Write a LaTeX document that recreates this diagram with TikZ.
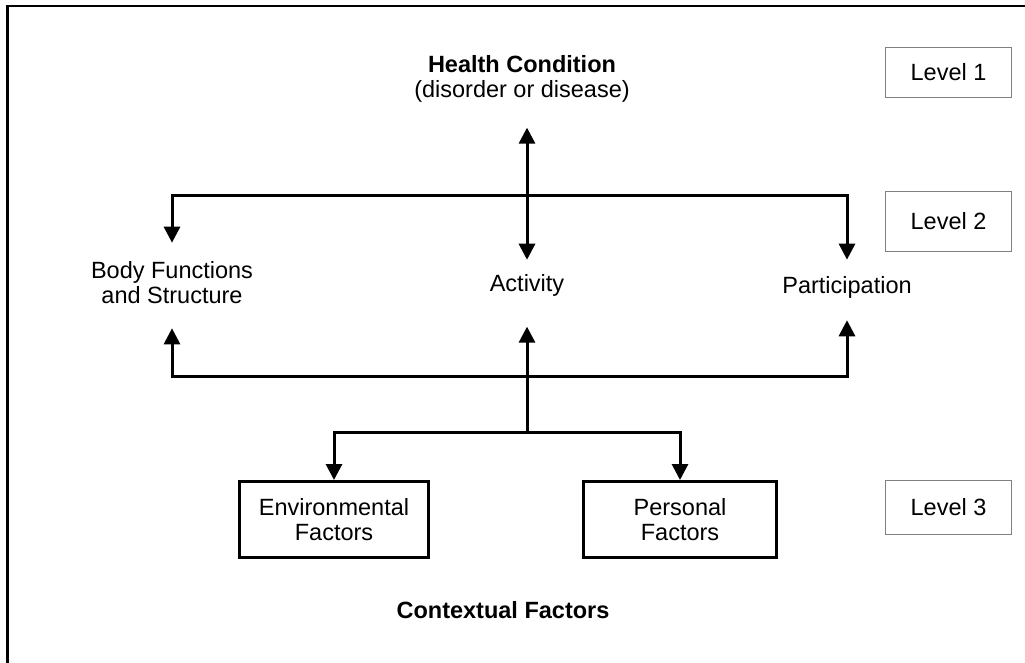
\documentclass[tikz,border=0pt]{standalone}
\usepackage{fontspec}
\setmainfont{Liberation Sans}
\usetikzlibrary{arrows.meta}
\begin{document}
\begin{tikzpicture}[x=1pt,y=-1pt,
    >={Triangle[width=16pt,length=16pt]},
    every node/.style={font=\fontsize{23.5}{25}\selectfont, inner sep=0pt, align=center},
    conn/.style={line width=3pt},
    factor/.style={draw, line width=3pt, minimum height=76pt},
    level/.style={draw=gray, line width=1pt, minimum width=126pt}]
        \useasboundingbox (0,0) rectangle (1025,663);
        \draw[line width=2.5pt] (7.5,663) |- (1025,6);
        \node (A0_1) at (522,79) {\textbf{Health Condition}\\(disorder or disease)};
        \node (A1_0) at (172,282.5) {Body Functions\\and Structure};
        \node (A1_1) at (527,285.5) {Activity};
        \node (A1_2) at (847,287.5) {Participation};
        \node [factor, minimum width=189pt] (A2_0) at (334,519.5) {Environmental\\Factors};
        \node [factor, minimum width=193pt] (A2_1) at (680,519.5) {Personal\\Factors};
        \node (A3_0) at (503,610) {\textbf{Contextual Factors}};
        \node [level, minimum height=50pt] (L1) at (948.5,72.5) {Level 1};
        \node [level, minimum height=60pt] (L2) at (948.5,221.5) {Level 2};
        \node [level, minimum height=54pt] (L3) at (948.5,507.5) {Level 3};
        \coordinate (J1) at (527,196);
        \coordinate (J2) at (527,376);
        \coordinate (J3) at (527,432);
        \draw [conn,<->,shorten <=14.6pt,shorten >=25pt] (A1_1) -- (A0_1.south -| A1_1);
        \draw [conn,->,shorten >=18.5pt] (J1) -| (A1_0);
        \draw [conn,->,shorten >=16.7pt] (J1) -| (A1_2);
        \draw [conn,->,shorten >=24.5pt] (J2) -| (A1_0);
        \draw [conn,->,shorten >=21.6pt] (J2) -| (A1_2);
        \draw [conn,->,shorten >=30pt] (J3) -- (A1_1);
        \draw [conn,->] (J3) -| (A2_0);
        \draw [conn,->] (J3) -| (A2_1);
      \end{tikzpicture}
\end{document}
